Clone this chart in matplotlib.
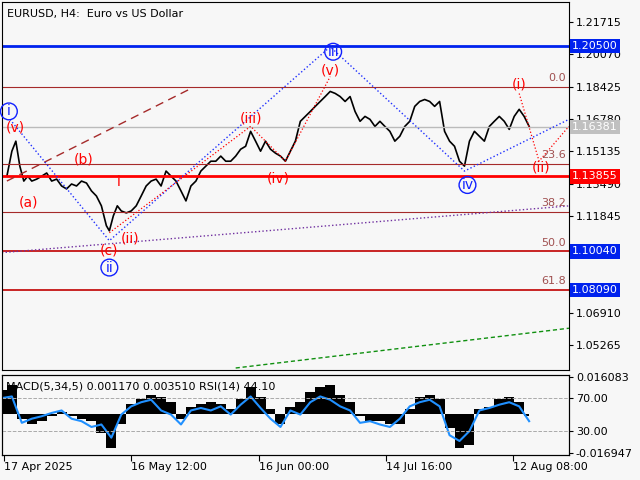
import matplotlib
matplotlib.use("Agg")
import matplotlib.pyplot as plt
import matplotlib.transforms as mtrans

# price path (bar index, close)
bars = [5, 10, 14, 18, 22, 26, 30, 35, 40, 45, 50, 55, 60, 65, 70, 75, 80, 85, 90, 95,
        100, 105, 108, 112, 116, 120, 125, 130, 135, 140, 145, 150, 155, 160, 165, 170,
        175, 180, 185, 190, 195, 200, 205, 210, 215, 220, 225, 230, 235, 240, 245, 250,
        255, 260, 265, 270, 275, 280, 285, 290, 295, 300, 305, 310, 315, 320, 325, 330,
        335, 340, 345, 350, 355, 360, 365, 370, 375, 380, 385, 390, 395, 400, 405, 410,
        415, 420, 425, 430, 435, 440, 445, 450, 455, 460, 465, 470, 475, 480, 485, 490,
        495, 500, 505, 510, 515, 520, 525, 530]
close = [1.1387, 1.1514, 1.1565, 1.1438, 1.1362, 1.1387, 1.1362, 1.1372, 1.1387, 1.1403,
         1.1362, 1.1372, 1.1337, 1.1322, 1.1347, 1.1337, 1.1362, 1.1352, 1.1312, 1.1286,
         1.1236, 1.1135, 1.1109, 1.1185, 1.1236, 1.1210, 1.1200, 1.1210, 1.1236, 1.1286,
         1.1337, 1.1362, 1.1372, 1.1337, 1.1413, 1.1387, 1.1362, 1.1312, 1.1261, 1.1337,
         1.1362, 1.1413, 1.1438, 1.1463, 1.1463, 1.1489, 1.1463, 1.1463, 1.1489, 1.1524,
         1.1539, 1.1615, 1.1565, 1.1514, 1.1565, 1.1524, 1.1504, 1.1489, 1.1463, 1.1514,
         1.1565, 1.1666, 1.1691, 1.1716, 1.1742, 1.1767, 1.1792, 1.1818, 1.1808, 1.1792,
         1.1767, 1.1792, 1.1716, 1.1666, 1.1691, 1.1676, 1.1640, 1.1666, 1.1640, 1.1615,
         1.1565, 1.1590, 1.1640, 1.1666, 1.1742, 1.1767, 1.1777, 1.1767, 1.1742, 1.1767,
         1.1615, 1.1565, 1.1539, 1.1463, 1.1438, 1.1565, 1.1615, 1.1590, 1.1565, 1.1640,
         1.1666, 1.1691, 1.1666, 1.1625, 1.1691, 1.1727, 1.1691, 1.1640]

# oscillator samples
osc_x = list(range(0, 540, 10))
macd = [10, 12, -2, -4, -3, -1, 1, -1, -2, -3, -8, -14, -4, 4, 6, 8, 7, 5, -2, 3,
        4, 5, 4, 2, 6, 11, 7, 2, -4, 3, 5, 9, 11, 12, 8, 5, -1, -3, -3, -4,
        -4, 2, 7, 8, 6, -6, -14, -13, 2, 3, 6, 7, 5, -1]
rsi = [70, 72, 40, 45, 48, 52, 55, 45, 42, 35, 38, 22, 50, 60, 65, 68, 55, 50, 38, 55,
       58, 55, 60, 50, 62, 72, 58, 45, 35, 55, 50, 65, 72, 68, 60, 55, 40, 42, 38, 35,
       45, 60, 65, 68, 60, 25, 18, 30, 55, 58, 62, 65, 60, 42]

tick_pos = [2, 130, 258, 386, 514]
tick_labels = ["17 Apr 2025", "16 May 12:00", "16 Jun 00:00", "14 Jul 16:00", "12 Aug 08:00"]
price_ticks = [1.21715, 1.20070, 1.18425, 1.16780, 1.15135, 1.13490, 1.11845,
               1.06910, 1.05265]
fib_levels = [1.18425, 1.1448, 1.1204, 1.1004, 1.0809]
fib_names = ["0.0", "23.6", "38.2", "50.0", "61.8"]

def py(y):
    # chart pixel row -> price
    return 1.2273 - y * 0.000506

fig = plt.figure(figsize=(6.4, 4.8), dpi=100)
fig.patch.set_facecolor("#f7f7f7")
ax = fig.add_axes([0.003, 110 / 480, 567 / 640, 368 / 480])
ax.set_facecolor("#f7f7f7")
ax.set_xlim(0, 570)
ax.set_ylim(py(370), py(0))
ax.yaxis.tick_right()
ax.set_yticks(price_ticks)
ax.set_yticklabels(["%.5f" % v for v in price_ticks], fontsize=8)
ax.set_xticks([])
ax.tick_params(axis="y", length=3, pad=2)

ax.plot(bars, close, color="black", lw=1.2)

ax.axhline(1.20500, color="#0022ee", lw=2)
ax.axhline(1.13855, color="#ff0000", lw=2)
ax.axhline(1.16381, color="#bbbbbb", lw=1)
for lv in fib_levels:
    ax.axhline(lv, color="#a52a2a" if lv > 1.11 else "#c00000", lw=1.2 if lv < 1.11 else 0.8)
for lv, nm in zip(fib_levels, fib_names):
    ax.text(567, lv + 0.002, nm, ha="right", va="bottom", color="#a05050", fontsize=8)

trb = mtrans.blended_transform_factory(ax.transAxes, ax.transData)
for val, fc in [(1.20500, "#0022ee"), (1.16381, "#c0c0c0"), (1.13855, "#ff0000"),
                (1.10040, "#0022ee"), (1.08090, "#0022ee")]:
    ax.text(1.005, val, "%.5f" % val, transform=trb, ha="left", va="center", fontsize=8,
            color="white", bbox=dict(boxstyle="square,pad=0.2", fc=fc, ec="none"),
            clip_on=False, zorder=20)

# trend lines
ax.plot([5, 190], [py(180), py(87)], color="#a52a2a", ls=(0, (6, 4)), lw=1)
ax.plot([0, 570], [py(252), py(205)], color="#7030a0", ls=":", lw=1)
ax.plot([235, 570], [py(368), py(328)], color="#109010", ls=(0, (3, 2)), lw=1)
ax.plot([8, 108, 330, 465, 570], [py(118), py(240), py(45), py(170), py(118)],
        color="#2030ff", ls=":", lw=1)
ax.plot([108, 250, 285, 330], [py(232), py(125), py(160), py(75)], color="red", ls=":", lw=0.9)
ax.plot([520, 540, 570], [py(92), py(160), py(125)], color="red", ls=":", lw=0.9)

for x, y, t in [(13, 126, "(v)"), (27, 202, "(a)"), (82, 158, "(b)"), (117, 181, "i"),
                (108, 250, "(c)"), (129, 238, "(ii)"), (250, 117, "(iii)"), (278, 177, "(iv)"),
                (330, 69, "(v)"), (520, 83, "(i)"), (542, 166, "(ii)")]:
    ax.text(x, py(y), t, color="red", fontsize=10, ha="center", va="center")
for x, y, t in [(7, 110, "i"), (108, 267, "ii"), (333, 50, "iii"), (468, 184, "iv")]:
    ax.text(x, py(y), t, color="#1020ff", fontsize=10, ha="center", va="center",
            bbox=dict(boxstyle="circle,pad=0.1", fc="none", ec="#1020ff"))
ax.text(5, py(12), "EURUSD, H4:  Euro vs US Dollar", fontsize=8, va="center")

# oscillator panel
ax2 = fig.add_axes([0.003, 25 / 480, 567 / 640, 80 / 480])
ax2.set_facecolor("#f7f7f7")
ax2.set_xlim(0, 570)
ax2.set_ylim(-0.016947, 0.016083)
ax2.fill_between(osc_x, [m * 0.001 for m in macd], 0, step="mid", color="black", lw=0)
ax2.set_yticks([])
ax2.set_xticks(tick_pos)
ax2.set_xticklabels(tick_labels, fontsize=8, ha="left")
ax2.tick_params(axis="x", length=4, pad=1)
ax3 = ax2.twinx()
ax3.set_ylim(1, 98)
ax3.plot(osc_x, rsi, color="#2090ff", lw=1.5)
ax3.axhline(70, color="#aaaaaa", ls="--", lw=0.7)
ax3.axhline(30, color="#aaaaaa", ls="--", lw=0.7)
ax3.set_yticks([96, 70, 30, 4])
ax3.set_yticklabels(["0.016083", "70.00", "30.00", "-0.016947"], fontsize=8)
ax3.tick_params(axis="y", length=3, pad=2)
ax2.text(4, 0.0115, "MACD(5,34,5) 0.001170 0.003510 RSI(14) 44.10", fontsize=8, va="center")

fig.savefig("out.png", dpi=100, facecolor=fig.get_facecolor())
